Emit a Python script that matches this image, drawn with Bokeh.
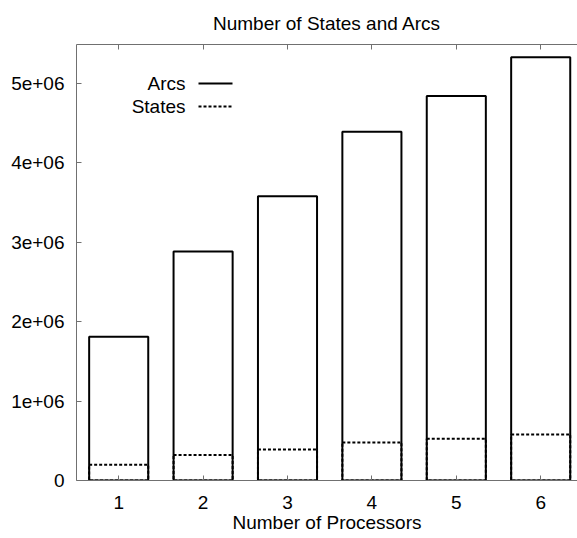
from bokeh.plotting import figure
from bokeh.models import Range1d, LinearAxis, FixedTicker, Label, Arrow
from bokeh.embed import file_html
from bokeh.resources import INLINE

# ---- data ----
processors = [1, 2, 3, 4, 5, 6]
arcs = [1810000, 2885000, 3580000, 4390000, 4840000, 5330000]
states = [198000, 320000, 390000, 480000, 525000, 580000]
y_ticks = [0, 1000000, 2000000, 3000000, 4000000, 5000000]
y_tick_labels = ["0", "1e+06", "2e+06", "3e+06", "4e+06", "5e+06"]
series_names = ["Arcs", "States"]
series_dash = ["solid", "3 2"]
chart_title = "Number of States and Arcs"
x_title = "Number of Processors"

FONT = "Liberation Sans"
FS = "19px"
AXIS_COLOR = "#707070"

p = figure(width=577, height=538, output_backend="svg", toolbar_location=None,
           x_range=Range1d(0.5, 6.436), y_range=Range1d(0, 5.49e6),
           min_border_left=76, min_border_right=0, min_border_top=44,
           min_border_bottom=58, title=chart_title)
p.grid.visible = False
p.outline_line_color = None
p.background_fill_color = "white"
p.border_fill_color = "white"

p.title.text_font = FONT
p.title.text_font_size = FS
p.title.text_font_style = "normal"
p.title.align = "center"
p.title.text_color = "black"
p.title.standoff = 21

# bars
p.vbar(x=processors, top=states, width=0.7, fill_color=None, line_color="black",
       line_width=2, line_dash="3 2")
p.vbar(x=processors, top=arcs, width=0.7, fill_color=None, line_color="black",
       line_width=2)

# axes
xa = p.xaxis[0]
xa.ticker = FixedTicker(ticks=processors)
xa.axis_label = x_title
ya = p.yaxis[0]
ya.ticker = FixedTicker(ticks=y_ticks)
ya.major_label_overrides = {t: l for t, l in zip(y_ticks, y_tick_labels)}

top_axis = LinearAxis(ticker=FixedTicker(ticks=processors),
                      major_label_text_color=None, major_label_standoff=0)
p.add_layout(top_axis, "above")

for ax in [xa, ya, top_axis]:
    ax.axis_line_color = AXIS_COLOR
    ax.major_tick_line_color = AXIS_COLOR
    ax.major_tick_in = 5
    ax.major_tick_out = 0
    ax.minor_tick_line_color = None
    ax.major_label_text_font = FONT
    ax.axis_label_text_font = FONT
    ax.axis_label_text_font_style = "normal"
    ax.axis_label_text_color = "black"

xa.major_label_text_color = "black"
ya.major_label_text_color = "black"
xa.major_label_text_font_size = FS
xa.axis_label_text_font_size = FS
xa.major_label_standoff = 15
xa.axis_label_standoff = 0
ya.major_label_text_font_size = FS
ya.major_label_standoff = 12

# key (gnuplot style: text right-aligned, sample line to the right)
for i, (name, dash) in enumerate(zip(series_names, series_dash)):
    yy = 397 - 23 * i
    p.add_layout(Label(x=109, y=yy, x_units="screen", y_units="screen",
                       text=name, text_align="right", text_baseline="middle",
                       text_font=FONT, text_font_size=FS, text_color="black"))
    p.add_layout(Arrow(x_start=122, y_start=yy, x_end=156, y_end=yy,
                       start_units="screen", end_units="screen", end=None,
                       line_color="black", line_width=2, line_dash=dash))

open("out.html", "w").write(file_html(p, INLINE))
